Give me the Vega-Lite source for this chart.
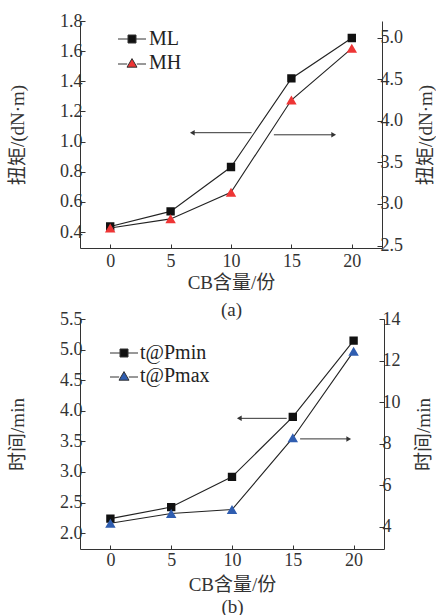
{
  "$schema": "https://vega.github.io/schema/vega-lite/v6.json",
  "padding": {"left": 8, "top": 12, "right": 0, "bottom": 0},
  "spacing": -21,
  "resolve": {"scale": {"color": "independent", "shape": "independent"}, "legend": {"color": "independent", "shape": "independent"}},
  "datasets": {
    "torque": [
      {"cb": 0, "series": "ML", "value": 0.437},
      {"cb": 5, "series": "ML", "value": 0.537},
      {"cb": 10, "series": "ML", "value": 0.831},
      {"cb": 15, "series": "ML", "value": 1.419},
      {"cb": 20, "series": "ML", "value": 1.687},
      {"cb": 0, "series": "MH", "value": 2.71},
      {"cb": 5, "series": "MH", "value": 2.82},
      {"cb": 10, "series": "MH", "value": 3.14},
      {"cb": 15, "series": "MH", "value": 4.25},
      {"cb": 20, "series": "MH", "value": 4.87}
    ],
    "time": [
      {"cb": 0, "series": "t@Pmin", "value": 2.236},
      {"cb": 5, "series": "t@Pmin", "value": 2.425},
      {"cb": 10, "series": "t@Pmin", "value": 2.92},
      {"cb": 15, "series": "t@Pmin", "value": 3.9},
      {"cb": 20, "series": "t@Pmin", "value": 5.147},
      {"cb": 0, "series": "t@Pmax", "value": 4.16},
      {"cb": 5, "series": "t@Pmax", "value": 4.63},
      {"cb": 10, "series": "t@Pmax", "value": 4.82},
      {"cb": 15, "series": "t@Pmax", "value": 8.27},
      {"cb": 20, "series": "t@Pmax", "value": 12.44}
    ],
    "arrowsA": [
      {"x1": 6.8, "x2": 11.7, "y": 1.059, "head": 6.8, "dir": "left"},
      {"x1": 13.55, "x2": 18.5, "y": 1.045, "head": 18.5, "dir": "right"}
    ],
    "arrowsB": [
      {"x1": 10.6, "x2": 14.5, "y": 3.876, "head": 10.6, "dir": "left"},
      {"x1": 15.6, "x2": 19.6, "y": 3.54, "head": 19.6, "dir": "right"}
    ]
  },
  "config": {
    "view": {"stroke": null},
    "font": "Liberation Serif, Times New Roman, serif",
    "axis": {
      "domainColor": "#333",
      "tickColor": "#333",
      "tickSize": -5,
      "labelColor": "#333",
      "titleColor": "#333",
      "labelFont": "Liberation Serif, Times New Roman, serif",
      "labelFontSize": 18,
      "titleFont": "Liberation Serif, Noto Sans CJK SC, serif",
      "titleFontSize": 19,
      "titleFontWeight": "normal",
      "grid": false,
      "labelPadding": 3
    },
    "legend": {
      "labelFont": "Liberation Serif, Times New Roman, serif",
      "labelFontSize": 20,
      "labelColor": "#222",
      "symbolStrokeColor": "#333",
      "symbolStrokeWidth": 1
    }
  },
  "vconcat": [
    {
      "width": 302,
      "height": 227,
      "resolve": {"scale": {"y": "independent"}},
      "layer": [
        {
          "layer": [
            {
              "data": {"name": "torque"},
              "transform": [{"filter": "datum.series === 'ML'"}],
              "mark": {"type": "line", "color": "#222", "strokeWidth": 1.1},
              "encoding": {
                "x": {"field": "cb", "type": "quantitative"},
                "y": {"field": "value", "type": "quantitative"}
              }
            },
            {
              "data": {"name": "torque"},
              "transform": [{"filter": "datum.series === 'ML'"}],
              "mark": {"type": "point", "filled": true, "size": 70, "opacity": 1},
              "encoding": {
                "x": {"field": "cb", "type": "quantitative"},
                "y": {"field": "value", "type": "quantitative"},
                "color": {"field": "series", "type": "nominal", "scale": {"domain": ["ML", "MH"], "range": ["#111111", "#ee3535"]},
                  "legend": {"title": null, "orient": "none", "legendX": 42, "legendY": 8, "rowPadding": 4, "labelOffset": 7, "symbolSize": 64, "symbolStrokeColor": "#333", "symbolStrokeWidth": 1}},
                "shape": {"field": "series", "type": "nominal", "scale": {"domain": ["ML", "MH"], "range": ["M-3.5,0H-1M1,0H3.5M-1,-1H1V1H-1Z", "M-3.5,0.25H-1.2M1.2,0.25H3.5M0,-1.1L1.25,1.05H-1.25Z"]},
                  "legend": {"title": null, "orient": "none", "legendX": 42, "legendY": 8, "rowPadding": 4, "labelOffset": 7, "symbolSize": 64, "symbolStrokeColor": "#333", "symbolStrokeWidth": 1}}
              }
            },
            {
              "data": {"name": "arrowsA"},
              "mark": {"type": "rule", "color": "#333", "strokeWidth": 1},
              "encoding": {
                "x": {"field": "x1", "type": "quantitative"},
                "x2": {"field": "x2"},
                "y": {"field": "y", "type": "quantitative"}
              }
            },
            {
              "data": {"name": "arrowsA"},
              "transform": [{"filter": "datum.dir === 'left'"}],
              "mark": {"type": "point", "filled": true, "size": 30, "color": "#333", "opacity": 1, "shape": "triangle-left"},
              "encoding": {
                "x": {"field": "head", "type": "quantitative"},
                "y": {"field": "y", "type": "quantitative"}
              }
            },
            {
              "data": {"name": "arrowsA"},
              "transform": [{"filter": "datum.dir === 'right'"}],
              "mark": {"type": "point", "filled": true, "size": 30, "color": "#333", "opacity": 1, "shape": "triangle-right"},
              "encoding": {
                "x": {"field": "head", "type": "quantitative"},
                "y": {"field": "y", "type": "quantitative"}
              }
            }
          ],
          "encoding": {
            "x": {"field": "cb", "type": "quantitative", "scale": {"domain": [-2.5, 22.5], "nice": false, "zero": false},
              "axis": {"values": [0, 5, 10, 15, 20], "title": ["CB含量/份", "(a)"], "titlePadding": 3, "titleLineHeight": 27, "tickSize": -4, "labelPadding": 8}},
            "y": {"field": "value", "type": "quantitative", "scale": {"domain": [0.294, 1.8], "nice": false, "zero": false},
              "axis": {"values": [0.4, 0.6, 0.8, 1.0, 1.2, 1.4, 1.6, 1.8], "format": ".1f", "title": "扭矩/(dN·m)", "titlePadding": 32}}
          }
        },
        {
          "layer": [
            {
              "data": {"name": "torque"},
              "transform": [{"filter": "datum.series === 'MH'"}],
              "mark": {"type": "line", "color": "#222", "strokeWidth": 1.1},
              "encoding": {
                "x": {"field": "cb", "type": "quantitative"},
                "y": {"field": "value", "type": "quantitative"}
              }
            },
            {
              "data": {"name": "torque"},
              "mark": {"type": "point", "filled": true, "size": 70, "opacity": 1},
              "transform": [{"filter": "datum.series === 'MH'"}],
              "encoding": {
                "x": {"field": "cb", "type": "quantitative"},
                "y": {"field": "value", "type": "quantitative"},
                "color": {"field": "series", "type": "nominal", "scale": {"domain": ["ML", "MH"], "range": ["#111111", "#ee3535"]}},
                "shape": {"field": "series", "type": "nominal", "scale": {"domain": ["ML", "MH"], "range": ["M-3.5,0H-1M1,0H3.5M-1,-1H1V1H-1Z", "M-3.5,0.25H-1.2M1.2,0.25H3.5M0,-1.1L1.25,1.05H-1.25Z"]}}
              }
            }
          ],
          "encoding": {
            "x": {"field": "cb", "type": "quantitative", "scale": {"domain": [-2.5, 22.5], "nice": false, "zero": false}},
            "y": {"field": "value", "type": "quantitative", "scale": {"domain": [2.47, 5.2], "nice": false, "zero": false},
              "axis": {"orient": "right", "values": [2.5, 3.0, 3.5, 4.0, 4.5, 5.0], "format": ".1f", "title": "扭矩/(dN·m)", "titlePadding": 14, "titleAngle": 270, "titleBaseline": "top"}}
          }
        }
      ]
    },
    {
      "width": 304,
      "height": 230,
      "resolve": {"scale": {"y": "independent"}},
      "layer": [
        {
          "layer": [
            {
              "data": {"name": "time"},
              "transform": [{"filter": "datum.series === 't@Pmin'"}],
              "mark": {"type": "line", "color": "#222", "strokeWidth": 1.1},
              "encoding": {
                "x": {"field": "cb", "type": "quantitative"},
                "y": {"field": "value", "type": "quantitative"}
              }
            },
            {
              "data": {"name": "time"},
              "transform": [{"filter": "datum.series === 't@Pmin'"}],
              "mark": {"type": "point", "filled": true, "size": 70, "opacity": 1},
              "encoding": {
                "x": {"field": "cb", "type": "quantitative"},
                "y": {"field": "value", "type": "quantitative"},
                "color": {"field": "series", "type": "nominal", "scale": {"domain": ["t@Pmin", "t@Pmax"], "range": ["#111111", "#2f5db0"]},
                  "legend": {"title": null, "orient": "none", "legendX": 34, "legendY": 24, "rowPadding": 3, "labelOffset": 6, "symbolSize": 64, "symbolStrokeColor": "#333", "symbolStrokeWidth": 1}},
                "shape": {"field": "series", "type": "nominal", "scale": {"domain": ["t@Pmin", "t@Pmax"], "range": ["M-3.5,0H-1M1,0H3.5M-1,-1H1V1H-1Z", "M-3.5,0.25H-1.2M1.2,0.25H3.5M0,-1.1L1.25,1.05H-1.25Z"]},
                  "legend": {"title": null, "orient": "none", "legendX": 34, "legendY": 24, "rowPadding": 3, "labelOffset": 6, "symbolSize": 64, "symbolStrokeColor": "#333", "symbolStrokeWidth": 1}}
              }
            },
            {
              "data": {"name": "arrowsB"},
              "mark": {"type": "rule", "color": "#333", "strokeWidth": 1},
              "encoding": {
                "x": {"field": "x1", "type": "quantitative"},
                "x2": {"field": "x2"},
                "y": {"field": "y", "type": "quantitative"}
              }
            },
            {
              "data": {"name": "arrowsB"},
              "transform": [{"filter": "datum.dir === 'left'"}],
              "mark": {"type": "point", "filled": true, "size": 30, "color": "#333", "opacity": 1, "shape": "triangle-left"},
              "encoding": {
                "x": {"field": "head", "type": "quantitative"},
                "y": {"field": "y", "type": "quantitative"}
              }
            },
            {
              "data": {"name": "arrowsB"},
              "transform": [{"filter": "datum.dir === 'right'"}],
              "mark": {"type": "point", "filled": true, "size": 30, "color": "#333", "opacity": 1, "shape": "triangle-right"},
              "encoding": {
                "x": {"field": "head", "type": "quantitative"},
                "y": {"field": "y", "type": "quantitative"}
              }
            }
          ],
          "encoding": {
            "x": {"field": "cb", "type": "quantitative", "scale": {"domain": [-2.5, 22.5], "nice": false, "zero": false},
              "axis": {"values": [0, 5, 10, 15, 20], "title": ["CB含量/份", "(b)"], "titlePadding": 6, "titleLineHeight": 22, "tickSize": -4, "labelPadding": 6}},
            "y": {"field": "value", "type": "quantitative", "scale": {"domain": [1.74, 5.5], "nice": false, "zero": false},
              "axis": {"values": [2.0, 2.5, 3.0, 3.5, 4.0, 4.5, 5.0, 5.5], "format": ".1f", "title": "时间/min", "titlePadding": 32}}
          }
        },
        {
          "layer": [
            {
              "data": {"name": "time"},
              "transform": [{"filter": "datum.series === 't@Pmax'"}],
              "mark": {"type": "line", "color": "#222", "strokeWidth": 1.1},
              "encoding": {
                "x": {"field": "cb", "type": "quantitative"},
                "y": {"field": "value", "type": "quantitative"}
              }
            },
            {
              "data": {"name": "time"},
              "transform": [{"filter": "datum.series === 't@Pmax'"}],
              "mark": {"type": "point", "filled": true, "size": 70, "opacity": 1},
              "encoding": {
                "x": {"field": "cb", "type": "quantitative"},
                "y": {"field": "value", "type": "quantitative"},
                "color": {"field": "series", "type": "nominal", "scale": {"domain": ["t@Pmin", "t@Pmax"], "range": ["#111111", "#2f5db0"]}},
                "shape": {"field": "series", "type": "nominal", "scale": {"domain": ["t@Pmin", "t@Pmax"], "range": ["M-3.5,0H-1M1,0H3.5M-1,-1H1V1H-1Z", "M-3.5,0.25H-1.2M1.2,0.25H3.5M0,-1.1L1.25,1.05H-1.25Z"]}}
              }
            }
          ],
          "encoding": {
            "x": {"field": "cb", "type": "quantitative", "scale": {"domain": [-2.5, 22.5], "nice": false, "zero": false}},
            "y": {"field": "value", "type": "quantitative", "scale": {"domain": [2.92, 14], "nice": false, "zero": false},
              "axis": {"orient": "right", "values": [4, 6, 8, 10, 12, 14], "title": "时间/min", "titlePadding": 14, "titleAngle": 270, "titleBaseline": "top"}}
          }
        }
      ]
    }
  ]
}
